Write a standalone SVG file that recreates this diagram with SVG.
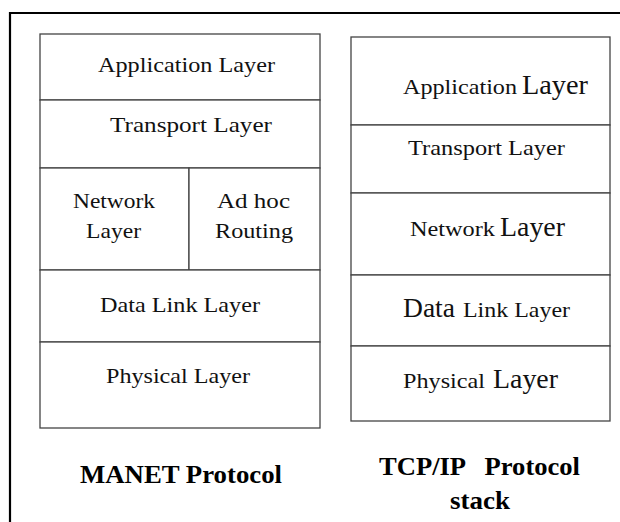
<svg xmlns="http://www.w3.org/2000/svg" width="620" height="522" viewBox="0 0 620 522">
<style>
.box{fill:#fff;stroke:#444;stroke-width:1.3}
text{font-family:"Liberation Serif","Times New Roman",serif;fill:#111}
.t{font-size:22px}
.b{font-size:28px}
.h{font-size:26px;font-weight:bold;fill:#000}
</style>
<rect width="620" height="522" fill="#fff"/>
<g id="frame"><path d="M10 522 V13 H620" fill="none" stroke="#000" stroke-width="2.2"/></g>
<g id="manet">
<g id="m-app"><rect class="box" x="40" y="34" width="280" height="66"/><text class="t" x="98" y="72" textLength="177" lengthAdjust="spacingAndGlyphs">Application Layer</text></g>
<g id="m-trans"><rect class="box" x="40" y="100" width="280" height="68"/><text class="t" x="110" y="132" textLength="162" lengthAdjust="spacingAndGlyphs">Transport Layer</text></g>
<g id="m-net"><rect class="box" x="40" y="168" width="149" height="102"/><text class="t" x="73" y="208" textLength="82" lengthAdjust="spacingAndGlyphs">Network</text><text class="t" x="86" y="238" textLength="55" lengthAdjust="spacingAndGlyphs">Layer</text></g>
<g id="m-adhoc"><rect class="box" x="189" y="168" width="131" height="102"/><text class="t" x="217" y="208" textLength="73" lengthAdjust="spacingAndGlyphs">Ad hoc</text><text class="t" x="215" y="238" textLength="78" lengthAdjust="spacingAndGlyphs">Routing</text></g>
<g id="m-dl"><rect class="box" x="40" y="270" width="280" height="72"/><text class="t" x="100" y="312" textLength="160" lengthAdjust="spacingAndGlyphs">Data Link Layer</text></g>
<g id="m-phy"><rect class="box" x="40" y="342" width="280" height="86"/><text class="t" x="106" y="383" textLength="144" lengthAdjust="spacingAndGlyphs">Physical Layer</text></g>
</g>
<g id="tcpip">
<g id="t-app"><rect class="box" x="351" y="37" width="259" height="88"/><text class="t" x="403" y="94" textLength="114" lengthAdjust="spacingAndGlyphs">Application</text><text class="b" x="522" y="94" textLength="66" lengthAdjust="spacingAndGlyphs">Layer</text></g>
<g id="t-trans"><rect class="box" x="351" y="125" width="259" height="68"/><text class="t" x="408" y="155" textLength="157" lengthAdjust="spacingAndGlyphs">Transport Layer</text></g>
<g id="t-net"><rect class="box" x="351" y="193" width="259" height="82"/><text class="t" x="410" y="236" textLength="85" lengthAdjust="spacingAndGlyphs">Network</text><text class="b" x="500" y="236" textLength="65" lengthAdjust="spacingAndGlyphs">Layer</text></g>
<g id="t-dl"><rect class="box" x="351" y="275" width="259" height="71"/><text class="b" x="403" y="317" textLength="52" lengthAdjust="spacingAndGlyphs">Data</text><text class="t" x="463" y="317" textLength="107" lengthAdjust="spacingAndGlyphs">Link Layer</text></g>
<g id="t-phy"><rect class="box" x="351" y="346" width="259" height="75"/><text class="t" x="403" y="388" textLength="82" lengthAdjust="spacingAndGlyphs">Physical</text><text class="b" x="493" y="388" textLength="65" lengthAdjust="spacingAndGlyphs">Layer</text></g>
</g>
<g id="labels">
<text class="h" x="80" y="483" textLength="202" lengthAdjust="spacingAndGlyphs">MANET Protocol</text>
<text class="h" x="379" y="475" textLength="201" lengthAdjust="spacingAndGlyphs" xml:space="preserve">TCP/IP   Protocol</text>
<text class="h" x="450" y="509" textLength="60" lengthAdjust="spacingAndGlyphs">stack</text>
</g>
<g id="connectors"/>
</svg>
